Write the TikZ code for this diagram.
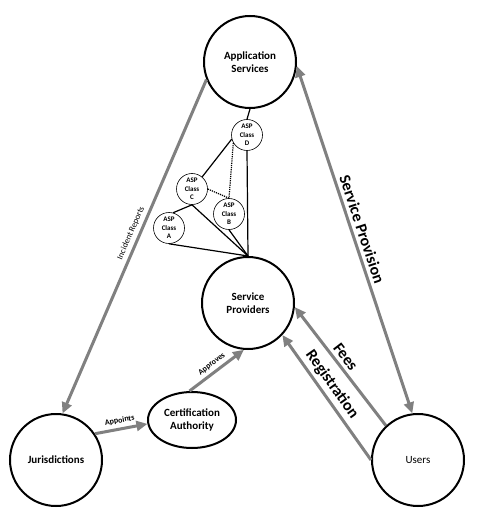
\documentclass[tikz,border=0pt]{standalone}
\usepackage{fontspec}
\setmainfont{Carlito}
\usetikzlibrary{arrows.meta,shapes.geometric}
\begin{document}
\begin{tikzpicture}[x=1pt,y=-1pt,
  >={Triangle[length=11pt,width=10pt]},
  big/.style={circle,draw,line width=2pt,minimum size=92pt,inner sep=0pt,align=center,font=\fontsize{11}{13}\selectfont\bfseries},
  asp/.style={circle,draw,line width=0.6pt,minimum size=31pt,inner sep=0pt,align=center,font=\fontsize{7}{8.5}\selectfont\bfseries},
  aspl/.style={draw=black,line width=1.2pt},
  flow/.style={draw=gray,line width=3pt},
  biglab/.style={font=\fontsize{16}{18}\selectfont\bfseries},
  smalllab/.style={font=\fontsize{8}{9}\selectfont\bfseries},
]
\fill[white] (0,0) rectangle (485,513);
\useasboundingbox (0,0) rectangle (485,513);

\node[big] (as) at (250,62) {Application\\Services};
\node[big] (sp) at (248,303) {Service\\Providers};
\node[big] (ju) at (56,460) {Jurisdictions};
\node[big,font=\fontsize{11}{13}\selectfont] (us) at (418,460) {Users};
\node[ellipse,draw,line width=2pt,minimum width=88pt,minimum height=56pt,inner sep=0pt,align=center,font=\fontsize{11}{13}\selectfont\bfseries] (ca) at (192,420) {Certification\\Authority};

\node[asp] (aspD) at (247,135) {ASP\\Class\\D};
\node[asp] (aspC) at (192,189) {ASP\\Class\\C};
\node[asp] (aspB) at (229,214) {ASP\\Class\\B};
\node[asp] (aspA) at (169,228) {ASP\\Class\\A};

\draw[aspl] (as.south) -- (aspD.north);
\draw[aspl] (aspD.south) -- (sp.north);
\draw[aspl] (aspD.195) -- (aspC.50);
\draw[aspl,densely dotted] (aspD.210) -- (aspB.north);
\draw[aspl,densely dotted] (aspC.east) -- (aspB.north);
\draw[aspl] (aspC.south) -- (aspA.75);
\draw[aspl] (aspC.south) -- (sp.north);
\draw[aspl] (aspB.south) -- (sp.north);
\draw[aspl] (aspA.south) -- (sp.north);

\draw[flow,<-] (ju.82) -- (as.202) node[pos=0.53,sloped,above,font=\fontsize{8.5}{10}\selectfont] {Incident Reports};
\draw[flow,<->] (as.-5) -- (us.97) node[pos=0.48,sloped,above,biglab] {Service Provision};
\draw[flow,<-] (sp.-5) -- (us.133) node[pos=0.47,sloped,above,biglab] {Fees};
\draw[flow,<-] (sp.-43) -- (us.180) node[pos=0.45,sloped,above,biglab] {Registration};
\draw[flow,->] (ju.34) -- (ca.185) node[midway,sloped,above,smalllab] {Appoints};
\draw[flow,->] (ca.95) -- (sp.-95) node[midway,sloped,above,smalllab] {Approves};
\end{tikzpicture}
\end{document}
